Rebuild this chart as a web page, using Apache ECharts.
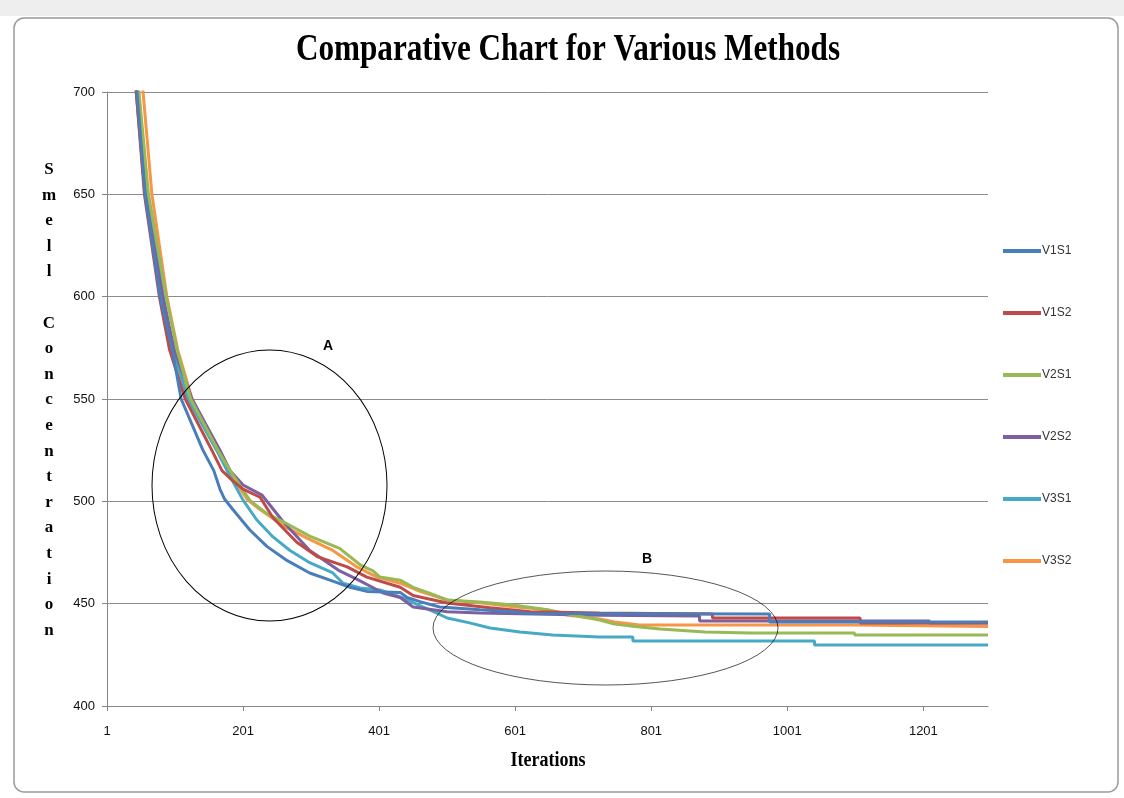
<!DOCTYPE html>
<html>
<head>
<meta charset="utf-8">
<script src="https://cdn.jsdelivr.net/npm/echarts@6/dist/echarts.min.js"></script>
<style>
html,body{margin:0;padding:0;background:#fff;}
#chart{width:1124px;height:798px;}
</style>
</head>
<body>
<div id="chart"></div>
<script>
// ---- data (iteration, smell concentration) ----
var seriesNames = ['V1S1', 'V1S2', 'V2S1', 'V2S2', 'V3S1', 'V3S2'];
var xTicks = [1, 201, 401, 601, 801, 1001, 1201];
var yTicks = [400, 450, 500, 550, 600, 650, 700];

var v1s1 = [[20,830],[45,700],[57,650],[79,600],[97,574],[110,550],[142,525],[158,515],[167,506],[174,501],[186,496],[211,486],[236,478],[266,471],[299,465],[333,461],[358,458],[383,456],[432,455.5],[442,453],[461,451],[490,448.4],[549,447],[598,446],[623,445.2],[975,445],[975,441],[1296,441]];
var v1s2 = [[20,815],[44,700],[56,650],[78,600],[93,574],[116,550],[155,525],[170,515],[186,510],[201,506],[226,502],[245,492],[280,480],[310,473],[354,468],[383,463],[432,458],[451,454],[501,450.3],[564,448],[623,446],[725,445.4],[891,445],[891,443],[1108,443],[1108,440.5],[1296,440.5]];
var v2s1 = [[20,800],[48,700],[62,650],[88,600],[104,574],[124,550],[164,525],[182,515],[211,500.5],[236,494],[260,490],[299,483],[343,477],[373,469],[392,466],[402,463],[432,461.5],[451,458],[476,455],[501,451.8],[549,450.8],[598,449.3],[648,447],[686,444.5],[725,442],[747,440],[774,439],[814,437.6],[880,436.2],[946,435.7],[1100,435.7],[1100,434.7],[1296,434.7]];
var v2s2 = [[20,810],[44,700],[57,650],[83,600],[100,574],[126,550],[167,525],[182,515],[201,508],[229,503],[260,490],[299,476],[343,466],[368,462],[407,455.2],[432,453],[451,448.4],[501,446],[549,445.4],[725,444.4],[872,444],[872,441.5],[1210,441.5],[1210,440.5],[1296,440.5]];
var v3s1 = [[20,815],[46,700],[60,650],[84,600],[98,574],[120,550],[162,525],[179,514],[201,500.6],[221,491],[245,482.6],[270,476],[299,470],[333,465],[348,460],[373,457.7],[402,456.7],[432,453.3],[465,448.4],[486,445.4],[501,443],[534,440.6],[564,438.1],[608,436.2],[656,434.7],[725,433.7],[774,433.7],[774,431.8],[1041,431.8],[1041,429.8],[1296,429.8]];
var v3s2 = [[20,830],[54,700],[67,650],[89,600],[105,574],[126,550],[164,525],[179,515],[208,500.6],[226,496],[260,488],[295,482],[333,476],[368,468],[398,463],[432,460],[461,456],[501,451.8],[549,450.5],[598,448.5],[648,447],[677,444.4],[725,442.5],[747,441],[784,439.6],[1100,439.6],[1100,438.8],[1296,438.8]];

var allData = [v1s1, v1s2, v2s1, v2s2, v3s1, v3s2];
var colors = ['#4A7EBB', '#BE4B48', '#98B954', '#7D60A0', '#46AAC5', '#F79646'];

var chart = echarts.init(document.getElementById('chart'), null, {renderer: 'canvas'});

var series = seriesNames.map(function (name, i) {
  return {
    name: name,
    type: 'line',
    data: allData[i],
    symbol: 'none',
    clip: true,
    lineStyle: {width: 3, color: colors[i]},
    itemStyle: {color: colors[i]},
    z: 10 - i
  };
});

var serif = '"Liberation Serif", "DejaVu Serif", serif';
var sans = '"Liberation Sans", "DejaVu Sans", sans-serif';

chart.setOption({
  animation: false,
  backgroundColor: '#ffffff',
  legend: {
    data: seriesNames,
    orient: 'vertical',
    left: 1003, top: 244,
    padding: 0,
    itemWidth: 38, itemHeight: 4,
    itemGap: 48,
    icon: 'rect',
    textStyle: {fontFamily: sans, fontSize: 12, color: '#333', lineHeight: 14, padding: [0, 0, 0, -4]},
    itemStyle: {borderWidth: 0}
  },
  grid: {left: 107, right: 136, top: 92, bottom: 92, containLabel: false},
  xAxis: {
    type: 'value',
    min: 1, max: 1296,
    axisLine: {show: true, lineStyle: {color: '#868686', width: 1}},
    axisTick: {show: true, customValues: xTicks, length: 5, lineStyle: {color: '#868686'}},
    axisLabel: {customValues: xTicks, formatter: function (v) { return String(v); },
      fontFamily: sans, fontSize: 13, color: '#111', margin: 19},
    splitLine: {show: false}
  },
  yAxis: {
    type: 'value',
    min: 400, max: 700, interval: 50,
    axisLine: {show: true, lineStyle: {color: '#868686', width: 1}},
    axisTick: {show: true, length: 5, lineStyle: {color: '#868686'}},
    axisLabel: {fontFamily: sans, fontSize: 13, color: '#111', margin: 12},
    splitLine: {show: true, lineStyle: {color: '#8c8c8c', width: 1}}
  },
  series: series,
  graphic: [
    {type: 'rect', shape: {x: 0, y: 0, width: 1124, height: 16}, style: {fill: '#eeeeee'}, z: -1},
    {type: 'rect', shape: {x: 14, y: 18, width: 1104, height: 774, r: 10}, style: {fill: 'none', stroke: '#9a9a9a', lineWidth: 1.5}, z: 0},
    {type: 'text', x: 568, y: 50, scaleX: 0.82,
      style: {text: 'Comparative Chart for Various Methods', font: 'bold 38px ' + serif, fill: '#000', align: 'center', verticalAlign: 'middle'}},
    {type: 'text', x: 548, y: 761, scaleX: 0.9,
      style: {text: 'Iterations', font: 'bold 20px ' + serif, fill: '#000', align: 'center', verticalAlign: 'middle'}},
    {type: 'text', x: 49, y: 400,
      style: {text: 'S\nm\ne\nl\nl\n\nC\no\nn\nc\ne\nn\nt\nr\na\nt\ni\no\nn', font: 'bold 17px ' + serif, fill: '#000', lineHeight: 25.6, align: 'center', verticalAlign: 'middle'}},
    {type: 'circle', shape: {cx: 0, cy: 0, r: 117.5}, x: 269.5, y: 485.5, scaleX: 1, scaleY: 135.5 / 117.5,
      style: {fill: 'none', stroke: '#000', lineWidth: 1}, z: 100},
    {type: 'text', x: 328, y: 346, style: {text: 'A', font: 'bold 14px ' + sans, fill: '#000', align: 'center', verticalAlign: 'middle'}, z: 100},
    {type: 'circle', shape: {cx: 0, cy: 0, r: 172.5}, x: 605.5, y: 628, scaleX: 1, scaleY: 57 / 172.5,
      style: {fill: 'none', stroke: '#000', lineWidth: 1 }, z: 100},
    {type: 'text', x: 647, y: 559, style: {text: 'B', font: 'bold 14px ' + sans, fill: '#000', align: 'center', verticalAlign: 'middle'}, z: 100}
  ]
});
</script>
</body>
</html>
